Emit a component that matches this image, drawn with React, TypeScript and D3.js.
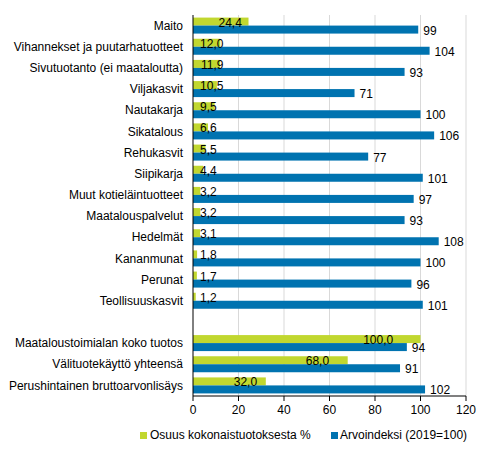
import React from "react";
import * as d3 from "d3";

const categories = [
  "Maito",
  "Vihannekset ja puutarhatuotteet",
  "Sivutuotanto (ei maataloutta)",
  "Viljakasvit",
  "Nautakarja",
  "Sikatalous",
  "Rehukasvit",
  "Siipikarja",
  "Muut kotieläintuotteet",
  "Maatalouspalvelut",
  "Hedelmät",
  "Kananmunat",
  "Perunat",
  "Teollisuuskasvit",
  "",
  "Maataloustoimialan koko tuotos",
  "Välituotekäyttö yhteensä",
  "Perushintainen bruttoarvonlisäys",
];
const shareValues: (number | null)[] = [
  24.4, 12.0, 11.9, 10.5, 9.5, 6.6, 5.5, 4.4, 3.2, 3.2, 3.1, 1.8, 1.7, 1.2, null, 100.0, 68.0, 32.0,
];
const indexValues: (number | null)[] = [
  99, 104, 93, 71, 100, 106, 77, 101, 97, 93, 108, 100, 96, 101, null, 94, 91, 102,
];
const xTicks = [0, 20, 40, 60, 80, 100, 120];
const seriesNames = ["Osuus kokonaistuotoksesta %", "Arvoindeksi (2019=100)"];

const GREEN = "#c1d72f";
const BLUE = "#0073b0";
const FONT = "'Liberation Sans', Arial, sans-serif";

export default function App() {
  const W = 491, H = 454;
  const left = 193, right = 466, top = 15, bottom = 396;
  const x = d3.scaleLinear().domain([0, 120]).range([left, right]);
  const y = d3.scaleBand<number>().domain(categories.map((_, i) => i)).range([top, bottom]);
  const bw = y.bandwidth();
  const barH = 8;
  const pad = (bw - 2 * barH) / 2;
  const fmt = (v: number) => v.toFixed(1).replace(".", ",");
  const estW = (s: string) => s.replace(",", "").length * 6.7 + 3.3;

  return (
    <svg width={W} height={H} style={{ position: "absolute", left: 0, top: 0, background: "#fff" }} fontFamily={FONT}>
      {xTicks.slice(1).map((t) => (
        <line key={"g" + t} x1={x(t)} x2={x(t)} y1={top} y2={bottom} stroke="#d9d9d9" strokeWidth={1} />
      ))}
      {categories.map((c, i) => {
        const y0 = y(i)!;
        const s = shareValues[i];
        const v = indexValues[i];
        return (
          <g key={i}>
            {s != null && (
              <rect x={x(0)} y={y0 + pad} width={x(s) - x(0)} height={barH} fill={GREEN} />
            )}
            {v != null && (
              <rect x={x(0)} y={y0 + pad + barH} width={x(v) - x(0)} height={barH} fill={BLUE} />
            )}
            {c && (
              <text x={left - 10} y={y0 + bw / 2} dy="0.35em" textAnchor="end" fontSize={12} fill="#000">
                {c}
              </text>
            )}
          </g>
        );
      })}
      {categories.map((_, i) => {
        const y0 = y(i)!;
        const s = shareValues[i];
        const v = indexValues[i];
        const out: React.ReactNode[] = [];
        if (s != null) {
          const label = fmt(s);
          const len = x(s) - x(0);
          const rx = Math.max(x(0) + 0.88 * len, x(0) + 7 + estW(label));
          out.push(
            <text key={"s" + i} x={rx} y={y0 + pad + barH + 1} textAnchor="end" fontSize={12} fill="#000">
              {label}
            </text>
          );
        }
        if (v != null) {
          out.push(
            <text key={"v" + i} x={x(v) + 5} y={y0 + pad + 2 * barH + 1} textAnchor="start" fontSize={12} fill="#000">
              {String(v)}
            </text>
          );
        }
        return <g key={"l" + i}>{out}</g>;
      })}
      <line x1={left} x2={left} y1={top} y2={bottom} stroke="#000" strokeWidth={1} />
      <line x1={left} x2={right} y1={bottom} y2={bottom} stroke="#000" strokeWidth={1} />
      {xTicks.map((t) => (
        <g key={"t" + t}>
          <line x1={x(t)} x2={x(t)} y1={bottom} y2={bottom + 5} stroke="#000" />
          <text x={x(t)} y={bottom + 18} textAnchor="middle" fontSize={12} fill="#000">
            {t}
          </text>
        </g>
      ))}
      <g>
        <rect x={140} y={432} width={7} height={7} fill={GREEN} />
        <text x={150} y={439} fontSize={12} fill="#000">{seriesNames[0]}</text>
        <rect x={331} y={432} width={7} height={7} fill={BLUE} />
        <text x={340} y={439} fontSize={12} fill="#000">{seriesNames[1]}</text>
      </g>
    </svg>
  );
}
